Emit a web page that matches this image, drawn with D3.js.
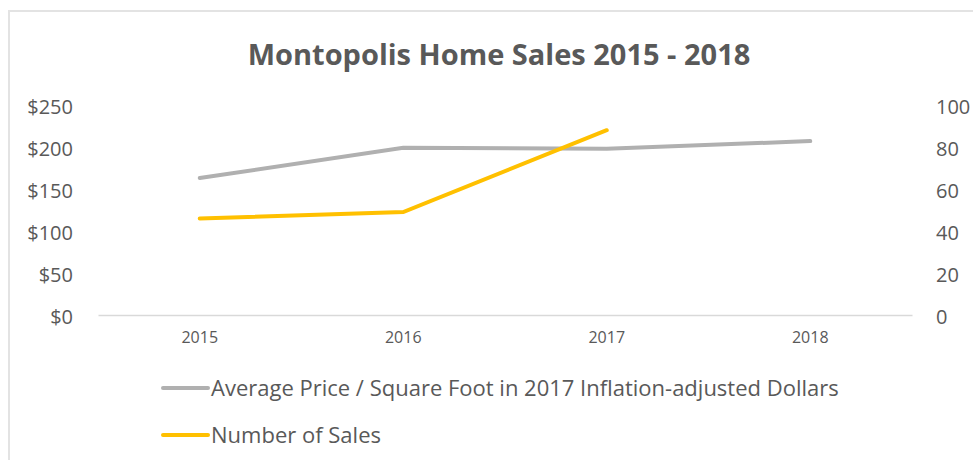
<!DOCTYPE html>
<html>
<head>
<meta charset="utf-8">
<script src="https://cdn.jsdelivr.net/npm/d3@7"></script>
<style>
  body { margin: 0; background: #fff; }
  text { font-family: "Open Sans", sans-serif; fill: #595959; }
</style>
</head>
<body>
<div id="chart"></div>
<script>
// データ
var years = ["2015", "2016", "2017", "2018"];
var avgPrice = [163, 199, 198, 207];
var salesCount = [46, 49, 88, null];
var priceTicks = [0, 50, 100, 150, 200, 250];
var salesTicks = [0, 20, 40, 60, 80, 100];

var width = 973,
  height = 460;
var padding = { top: 105, right: 61, bottom: 145, left: 98 };

var svg = d3
  .select("#chart")
  .append("svg")
  .attr("width", width)
  .attr("height", height);

// 外枠
svg
  .append("rect")
  .attr("x", 9)
  .attr("y", 11)
  .attr("width", 1000)
  .attr("height", 500)
  .attr("fill", "none")
  .attr("stroke", "#e3e3e3")
  .attr("stroke-width", 2);

var xScale = d3
  .scaleBand()
  .domain(years)
  .range([padding.left, width - padding.right]);

var yLeft = d3
  .scaleLinear()
  .domain([0, 250])
  .range([height - padding.bottom, padding.top]);
var yRight = d3
  .scaleLinear()
  .domain([0, 100])
  .range([height - padding.bottom, padding.top]);

// タイトル
svg
  .append("text")
  .text("Montopolis Home Sales 2015 - 2018")
  .attr("x", 499)
  .attr("y", 65)
  .attr("text-anchor", "middle")
  .style("font-size", "29px")
  .style("font-weight", "bold");

// 左軸
var gLeft = svg
  .append("g")
  .attr("transform", "translate(" + 76 + ",0)")
  .call(
    d3
      .axisLeft(yLeft)
      .tickValues(priceTicks)
      .tickSize(0)
      .tickFormat(function (d) {
        return "$" + d;
      })
  );
gLeft.select(".domain").remove();
gLeft.selectAll("text").style("font-size", "20px").attr("dy", "0.4em");

// 右軸
var gRight = svg
  .append("g")
  .attr("transform", "translate(" + 933 + ",0)")
  .call(d3.axisRight(yRight).tickValues(salesTicks).tickSize(0));
gRight.select(".domain").remove();
gRight.selectAll("text").style("font-size", "20px").attr("dy", "0.4em");

// X軸
var gX = svg
  .append("g")
  .attr("transform", "translate(0," + (height - padding.bottom) + ")")
  .call(d3.axisBottom(xScale).tickSize(0).tickPadding(17));
gX.select(".domain").attr("stroke", "#d9d9d9").attr("stroke-width", 1.5);
gX.selectAll("text").style("font-size", "16px");

var cx = function (d, i) {
  return xScale(years[i]) + xScale.bandwidth() / 2;
};

var priceLine = d3
  .line()
  .x(cx)
  .y(function (d) {
    return yLeft(d);
  });
var salesLine = d3
  .line()
  .defined(function (d) {
    return d != null;
  })
  .x(cx)
  .y(function (d) {
    return yRight(d);
  });

svg
  .append("path")
  .datum(avgPrice)
  .attr("d", priceLine)
  .attr("fill", "none")
  .attr("stroke", "#b0b0b0")
  .attr("stroke-width", 4)
  .attr("stroke-linecap", "round");

svg
  .append("path")
  .datum(salesCount)
  .attr("d", salesLine)
  .attr("fill", "none")
  .attr("stroke", "#ffc000")
  .attr("stroke-width", 4)
  .attr("stroke-linecap", "round");

// 凡例
var legend = [
  { label: "Average Price / Square Foot in 2017 Inflation-adjusted Dollars", color: "#b0b0b0" },
  { label: "Number of Sales", color: "#ffc000" },
];
var legendG = svg
  .selectAll(".legend")
  .data(legend)
  .enter()
  .append("g")
  .attr("transform", function (d, i) {
    return "translate(163," + (388 + i * 47) + ")";
  });
legendG
  .append("line")
  .attr("x1", 0)
  .attr("x2", 45)
  .attr("stroke", function (d) {
    return d.color;
  })
  .attr("stroke-width", 4)
  .attr("stroke-linecap", "round");
legendG
  .append("text")
  .text(function (d) {
    return d.label;
  })
  .attr("x", 48)
  .attr("dy", "0.38em")
  .style("font-size", "22px");
</script>
</body>
</html>
